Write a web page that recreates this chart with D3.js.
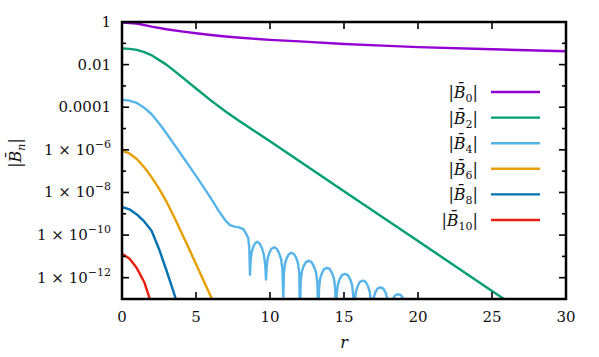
<!DOCTYPE html>
<html>
<head>
<meta charset="utf-8">
<script src="https://cdn.jsdelivr.net/npm/d3@7"></script>
<style>
  body { margin: 0; background: #fff; }
</style>
</head>
<body>
<div id="chart"></div>
<script>
var b0R   = [0, 1, 2, 3, 4, 5, 6, 7, 8, 10, 12, 15, 18, 20, 25, 30];
var b0Log = [-0.02, -0.07, -0.22, -0.34, -0.44, -0.53, -0.61, -0.68, -0.74, -0.84, -0.91, -1.03, -1.12, -1.18, -1.28, -1.37];

var b2R   = [0, 0.5, 1, 1.5, 2, 3, 4, 5, 6, 7, 8, 9, 10, 15, 20, 25, 26.2];
var b2Log = [-1.24, -1.26, -1.31, -1.41, -1.56, -2.0, -2.55, -3.12, -3.68, -4.2, -4.68, -5.14, -5.6, -7.94, -10.28, -12.62, -13.18];

var b4R = [0, 0.5, 1, 1.5, 2, 2.5, 3, 3.5, 4, 4.5, 5, 5.5, 6, 6.5, 7, 7.3, 7.6, 7.9, 8.2, 8.4, 8.53, 8.6, 8.65,
  8.69, 8.76, 8.87, 9.0, 9.14, 9.3, 9.45, 9.58, 9.68, 9.73,
  9.77, 9.84, 9.96, 10.1, 10.28, 10.45, 10.6, 10.74, 10.84, 10.9,
  10.94, 11.01, 11.13, 11.27, 11.45, 11.63, 11.78, 11.9, 11.98, 12.03,
  12.07, 12.15, 12.28, 12.43, 12.62, 12.8, 12.95, 13.1, 13.2, 13.27,
  13.31, 13.38, 13.5, 13.65, 13.86, 14.05, 14.2, 14.33, 14.41, 14.46,
  14.5, 14.58, 14.7, 14.86, 15.06, 15.26, 15.42, 15.55, 15.63, 15.68,
  15.72, 15.8, 15.92, 16.07, 16.27, 16.47, 16.62, 16.74, 16.82, 16.87,
  16.91, 16.99, 17.11, 17.26, 17.46, 17.66, 17.81, 17.93, 18.01, 18.06,
  18.1, 18.18, 18.3, 18.45, 18.66, 18.86, 19.01, 19.14, 19.22, 19.26];
var b4Log = [-3.65, -3.69, -3.8, -4.02, -4.33, -4.75, -5.22, -5.72, -6.22, -6.72, -7.22, -7.74, -8.27, -8.83, -9.33, -9.53, -9.6, -9.64, -9.72, -9.95, -10.15, -10.6, -11.86,
  -11.2, -10.8, -10.55, -10.38, -10.31, -10.4, -10.6, -10.9, -11.4, -12.09,
  -11.55, -11.1, -10.82, -10.64, -10.57, -10.64, -10.82, -11.1, -11.6, -12.9,
  -11.8, -11.35, -11.08, -10.9, -10.83, -10.9, -11.08, -11.35, -11.8, -14,
  -12.2, -11.72, -11.45, -11.27, -11.2, -11.27, -11.45, -11.72, -12.2, -14,
  -12.55, -12.07, -11.8, -11.6, -11.54, -11.6, -11.8, -12.07, -12.55, -14,
  -12.85, -12.35, -12.08, -11.88, -11.82, -11.88, -12.08, -12.35, -12.85, -14,
  -13.15, -12.67, -12.4, -12.2, -12.14, -12.2, -12.4, -12.67, -13.15, -14,
  -13.45, -12.98, -12.7, -12.51, -12.45, -12.51, -12.7, -12.98, -13.45, -14,
  -13.77, -13.3, -13.02, -12.83, -12.77, -12.83, -13.02, -13.3, -13.77, -14.5];

var b6R   = [0, 0.5, 1, 1.5, 2, 2.5, 3, 3.5, 4, 4.5, 5, 5.5, 6, 6.2];
var b6Log = [-6.04, -6.17, -6.43, -6.82, -7.28, -7.82, -8.42, -9.12, -9.86, -10.6, -11.36, -12.12, -12.88, -13.18];

var b8R   = [0, 0.5, 1, 1.5, 2, 2.5, 3, 3.5, 3.7];
var b8Log = [-8.68, -8.79, -9.03, -9.36, -9.8, -10.65, -11.65, -12.7, -13.15];

var b10R   = [0, 0.5, 1, 1.5, 1.95];
var b10Log = [-10.88, -11.1, -11.55, -12.2, -13.15];

var names  = ["0", "2", "4", "6", "8", "10"];
var colors = ["#9400d3", "#009e73", "#56b4e9", "#e69f00", "#0072b2", "#e51e10"];

var xTicks = [0, 5, 10, 15, 20, 25, 30];
var yMajorExp = [0, -2, -4, -6, -8, -10, -12];
var yMinorExp = [-1, -3, -5, -7, -9, -11];

// size of svg and plot box
var width = 599, height = 357;
var margin = {top: 22, right: 33, bottom: 58, left: 122};
var serif = "'DejaVu Serif', serif";

var svg = d3.select("#chart").append("svg")
  .attr("width", width)
  .attr("height", height)
  .style("font-family", serif);

var x = d3.scaleLinear().domain([0, 30]).range([margin.left, width - margin.right]);
var y = d3.scaleLog().domain([1e-13, 1]).range([height - margin.bottom, margin.top]);

var series = [
  {r: b0R, lg: b0Log}, {r: b2R, lg: b2Log}, {r: b4R, lg: b4Log},
  {r: b6R, lg: b6Log}, {r: b8R, lg: b8Log}, {r: b10R, lg: b10Log}
].map(function (s, i) {
  return {name: names[i], color: colors[i], pts: s.r.map(function (r, j) { return [r, Math.pow(10, s.lg[j])]; })};
});

svg.append("clipPath").attr("id", "clip")
  .append("rect")
  .attr("x", x(0)).attr("y", y(1))
  .attr("width", x(30) - x(0)).attr("height", y(1e-13) - y(1));

var line = d3.line()
  .x(function (d) { return x(d[0]); })
  .y(function (d) { return y(d[1]); });

svg.append("g")
  .attr("clip-path", "url(#clip)")
  .selectAll("path")
  .data(series)
  .enter()
  .append("path")
  .attr("d", function (d) { return line(d.pts); })
  .attr("fill", "none")
  .attr("stroke", function (d) { return d.color; })
  .attr("stroke-width", 2.4)
  .attr("stroke-linejoin", "round");

// ticks, drawn inward on all four sides
var ticks = svg.append("g").attr("stroke", "#000").attr("stroke-width", 1.6);
xTicks.forEach(function (t) {
  ticks.append("line").attr("x1", x(t)).attr("x2", x(t)).attr("y1", y(1e-13)).attr("y2", y(1e-13) - 7);
  ticks.append("line").attr("x1", x(t)).attr("x2", x(t)).attr("y1", y(1)).attr("y2", y(1) + 7);
});
yMajorExp.forEach(function (e) {
  var yy = y(Math.pow(10, e));
  ticks.append("line").attr("x1", x(0)).attr("x2", x(0) + 7).attr("y1", yy).attr("y2", yy);
  ticks.append("line").attr("x1", x(30)).attr("x2", x(30) - 7).attr("y1", yy).attr("y2", yy);
});
yMinorExp.forEach(function (e) {
  var yy = y(Math.pow(10, e));
  ticks.append("line").attr("x1", x(0)).attr("x2", x(0) + 4).attr("y1", yy).attr("y2", yy);
  ticks.append("line").attr("x1", x(30)).attr("x2", x(30) - 4).attr("y1", yy).attr("y2", yy);
});

// frame
svg.append("rect")
  .attr("x", x(0)).attr("y", y(1))
  .attr("width", x(30) - x(0)).attr("height", y(1e-13) - y(1))
  .attr("fill", "none").attr("stroke", "#000").attr("stroke-width", 2.5);

// x tick labels
svg.append("g").selectAll("text")
  .data(xTicks).enter().append("text")
  .attr("x", function (d) { return x(d); })
  .attr("y", 322)
  .attr("text-anchor", "middle")
  .style("font-size", "15px")
  .attr("fill", "#111")
  .text(function (d) { return d; });

// y tick labels
yMajorExp.forEach(function (e) {
  var t = svg.append("text")
    .attr("x", 111)
    .attr("y", y(Math.pow(10, e)) + 5)
    .attr("text-anchor", "end")
    .style("font-size", "15px")
    .attr("fill", "#111");
  if (e === 0) t.text("1");
  else if (e === -2) t.text("0.01");
  else if (e === -4) t.text("0.0001");
  else {
    t.append("tspan").text("1 \u00d7 10");
    t.append("tspan").attr("dy", -7).style("font-size", "11px").text("\u2212" + (-e));
  }
});

// axis titles
svg.append("text")
  .attr("x", x(15)).attr("y", 348)
  .attr("text-anchor", "middle")
  .style("font-size", "16px").style("font-style", "italic")
  .attr("fill", "#111")
  .text("r");

function bLabel(sel, sub) {
  sel.append("tspan").text("|");
  sel.append("tspan").style("font-style", "italic").text("B\u0304");
  sel.append("tspan").attr("dy", 4).style("font-size", "11px")
    .style("font-style", sub === "n" ? "italic" : "normal").text(sub);
  sel.append("tspan").attr("dy", -4).text("|");
}

var yTitle = svg.append("text")
  .attr("transform", "translate(21,153) rotate(-90)")
  .attr("text-anchor", "middle")
  .style("font-size", "16px")
  .attr("fill", "#111");
bLabel(yTitle, "n");

// legend
var legend = svg.append("g").attr("class", "legend");
series.forEach(function (s, i) {
  var ly = 92 + i * 25.6;
  var t = legend.append("text")
    .attr("x", 478).attr("y", ly + 6)
    .attr("text-anchor", "end")
    .style("font-size", "16px")
    .attr("fill", "#111");
  bLabel(t, s.name);
  legend.append("line")
    .attr("x1", 491).attr("x2", 540).attr("y1", ly).attr("y2", ly)
    .attr("stroke", s.color).attr("stroke-width", 2.4);
});
</script>
</body>
</html>
